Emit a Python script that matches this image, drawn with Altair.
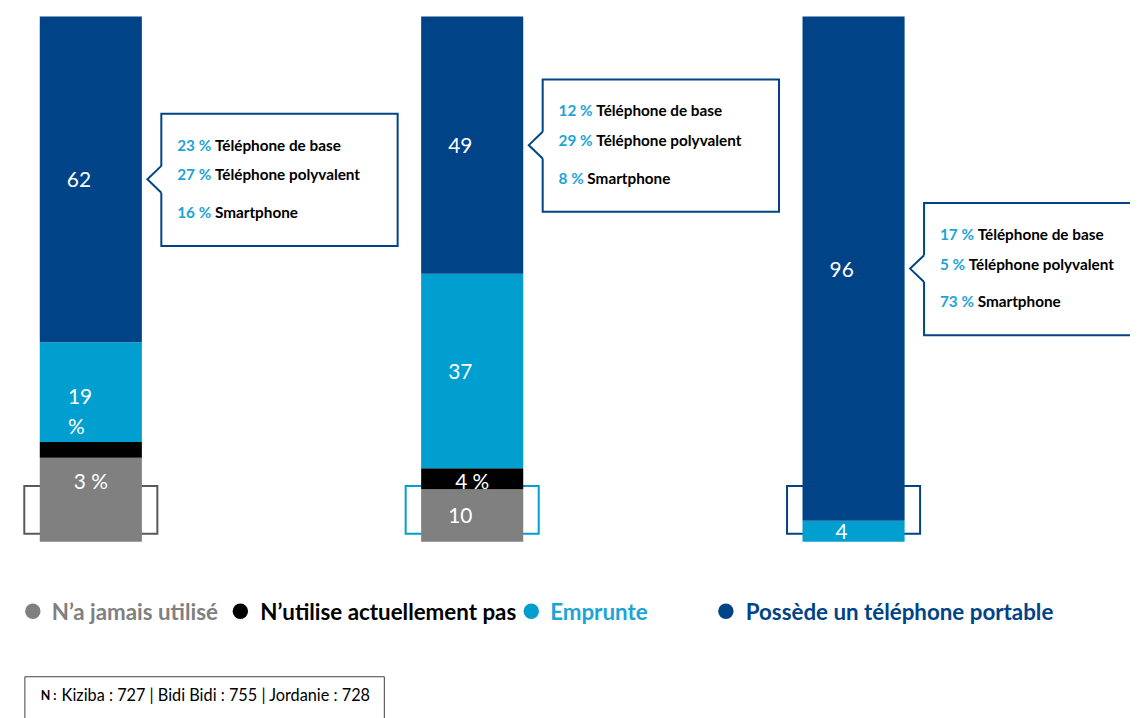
import altair as alt
import pandas as pd

# ---------------- data ----------------
countries = ["Kiziba", "Bidi Bidi", "Jordanie"]
cat_names = ["N’a jamais utilisé", "N’utilise actuellement pas", "Emprunte",
             "Possède un téléphone portable"]
never_used = [16, 10, 0]
not_using = [3, 4, 0]
borrows = [19, 37, 4]
owns = [62, 49, 96]

lab_never = ["", "10", ""]
lab_not = ["3 %", "4 %", ""]
lab_borrow = ["19 %", "37", "4"]
lab_owns = ["62", "49", "96"]

type_names = ["Téléphone de base", "Téléphone polyvalent", "Smartphone"]
type_base = [23, 12, 17]
type_multi = [27, 29, 5]
type_smart = [16, 8, 73]

sample_n = [727, 755, 728]

# ---------------- styles ----------------
DARK = "#004386"
LIGHT = "#009FCF"
LIGHT_TXT = "#1CA4D6"
GRAY = "#808080"
BLACK = "#000000"
FONT = "Lato"

rows = []
for ci, c in enumerate(countries):
    series = [never_used, not_using, borrows, owns]
    labs = [lab_never, lab_not, lab_borrow, lab_owns]
    for k in range(4):
        rows.append({"country": c, "cat": cat_names[k], "ord": k,
                     "value": series[k][ci], "label": labs[k][ci]})
df = pd.DataFrame(rows)

crow = []
for ci, c in enumerate(countries):
    ymid = never_used[ci] + not_using[ci] + borrows[ci] + owns[ci] / 2
    for li, (nm, vals) in enumerate(zip(type_names, [type_base, type_multi, type_smart])):
        crow.append({"country": c, "line": li, "ymid": ymid, "num": vals[ci],
                     "pct": f"{vals[ci]} %", "name": nm})
cdf = pd.DataFrame(crow)
box_df = cdf[cdf.line == 0]

x_enc = alt.X("country:N",
              scale=alt.Scale(domain=countries, range=[32, 903],
                              paddingInner=0.7323, paddingOuter=0),
              axis=None)
y_scale = alt.Scale(domain=[0, 100], range=[535, 6], nice=False, zero=True)

stacked = alt.Chart(df).transform_stack(
    stack="value", groupby=["country"],
    sort=[alt.SortField("ord", order="ascending")],
    as_=["y0", "y1"],
).transform_calculate(mid="(datum.y0 + datum.y1) / 2")

# outline boxes at the foot of each bar
outline = alt.Chart(pd.DataFrame({"country": countries})).mark_bar(
    width=134, filled=False, strokeWidth=2
).encode(
    x=x_enc,
    y=alt.Y(datum=1.5, scale=y_scale, axis=None),
    y2=alt.Y2(datum=10.6),
    stroke=alt.Stroke("country:N",
                      scale=alt.Scale(domain=countries, range=["#595959", LIGHT, DARK]),
                      legend=None),
)

bars = stacked.mark_bar().encode(
    x=x_enc,
    y=alt.Y("y0:Q", scale=y_scale, axis=None),
    y2="y1:Q",
    color=alt.Color("cat:N", scale=alt.Scale(domain=cat_names,
                                             range=[GRAY, BLACK, LIGHT, DARK]),
                    legend=None),
)

ymid_enc = alt.Y("mid:Q", scale=y_scale, axis=None)
lab_std = stacked.transform_filter(
    "datum.label != '' && datum.ord != 1 && !(datum.country == 'Kiziba' && datum.ord == 2)"
).mark_text(color="white", font=FONT, fontSize=21, dx=-12, dy=2,
            baseline="middle").encode(x=x_enc, y=ymid_enc, text="label:N")

lab_19 = stacked.transform_filter(
    "datum.country == 'Kiziba' && datum.ord == 2"
).mark_text(color="white", font=FONT, fontSize=21, dx=-23, dy=6, align="left",
            baseline="middle", lineBreak=" ", lineHeight=30).encode(
    x=x_enc, y=ymid_enc, text="label:N")

lab_3 = stacked.transform_filter(
    "datum.country == 'Kiziba' && datum.ord == 1"
).mark_text(color="white", font=FONT, fontSize=21, dx=0, dy=33,
            baseline="middle").encode(x=x_enc, y=ymid_enc, text="label:N")

lab_4 = stacked.transform_filter(
    "datum.country == 'Bidi Bidi' && datum.ord == 1"
).mark_text(color="white", font=FONT, fontSize=21, dx=0, dy=4,
            baseline="middle").encode(x=x_enc, y=ymid_enc, text="label:N")

# callouts
callout_box = alt.Chart(box_df).transform_calculate(
    top="datum.ymid + 12.5", bot="datum.ymid - 12.7"
).mark_bar(width=238, xOffset=190, fill="white", stroke=DARK, strokeWidth=2).encode(
    x=x_enc, y=alt.Y("top:Q", scale=y_scale, axis=None), y2="bot:Q")

cy = alt.Y("ymid:Q", scale=y_scale, axis=None)
ptr_fill = alt.Chart(box_df).mark_point(
    shape="M0.52,-1L-0.52,0L0.52,1L0.75,1L0.75,-1Z", size=729, filled=True,
    color="white", opacity=1, strokeWidth=0, xOffset=64).encode(x=x_enc, y=cy)
ptr_line = alt.Chart(box_df).mark_point(
    shape="M0.52,-1L-0.52,0L0.52,1", size=729, filled=False,
    color=DARK, opacity=1, strokeWidth=2, xOffset=64).encode(x=x_enc, y=cy)

callout_text = []
for li, dyv in enumerate([-34, -4, 34]):
    sub = alt.Chart(cdf[cdf.line == li])
    callout_text.append(sub.mark_text(
        align="left", baseline="middle", font=FONT, fontSize=15.4, fontWeight="bold",
        color=LIGHT_TXT, dx=87, dy=dyv).encode(x=x_enc, y=cy, text="pct:N"))
    callout_text.append(sub.transform_filter("datum.num >= 10").mark_text(
        align="left", baseline="middle", font=FONT, fontSize=15.4, fontWeight="bold",
        color="black", dx=125, dy=dyv).encode(x=x_enc, y=cy, text="name:N"))
    callout_text.append(sub.transform_filter("datum.num < 10").mark_text(
        align="left", baseline="middle", font=FONT, fontSize=15.4, fontWeight="bold",
        color="black", dx=116, dy=dyv).encode(x=x_enc, y=cy, text="name:N"))

# legend
legend_layers = []
leg_colors = [GRAY, BLACK, LIGHT, DARK]
leg_txt_colors = [GRAY, BLACK, LIGHT_TXT, DARK]
leg_cx = [25, 234, 527, 723]
leg_tx = [44, 254, 546, 743]
for cat, col, tcol, cx, tx in zip(cat_names, leg_colors, leg_txt_colors, leg_cx, leg_tx):
    one = alt.Chart(pd.DataFrame({"cat": [cat]}))
    legend_layers.append(one.mark_point(filled=True, size=240, color=col, opacity=1).encode(
        x=alt.value(cx), y=alt.value(605)))
    legend_layers.append(one.mark_text(align="left", baseline="middle", font=FONT,
                                       fontSize=22.5, fontWeight="bold", color=tcol).encode(
        x=alt.value(tx), y=alt.value(607), text="cat:N"))

# sample-size note
note_df = pd.DataFrame({"head": ["N :"],
                        "rest": [f"Kiziba : {sample_n[0]} | Bidi Bidi : {sample_n[1]} | Jordanie : {sample_n[2]}"]})
note_box = alt.Chart(note_df).mark_rect(fill="white", stroke="#404040", strokeWidth=1).encode(
    x=alt.value(17), x2=alt.value(379), y=alt.value(671), y2=alt.value(730))
note_head = alt.Chart(note_df).mark_text(align="left", baseline="middle", font=FONT,
                                         fontSize=12.5, fontWeight="bold", color="black").encode(
    x=alt.value(33), y=alt.value(690), text="head:N")
note_rest = alt.Chart(note_df).mark_text(align="left", baseline="middle", font=FONT,
                                         fontSize=16.4, color="black").encode(
    x=alt.value(54), y=alt.value(690), text="rest:N")

chart = alt.layer(
    outline, bars, lab_std, lab_19, lab_3, lab_4,
    callout_box, ptr_fill, ptr_line, *callout_text,
    *legend_layers, note_box, note_head, note_rest,
).properties(
    width=1130, height=710, padding=0, autosize=alt.AutoSizeParams(type="none")
).configure_view(stroke=None)

chart.save("out.html", embed_options={"renderer": "svg", "actions": False})
